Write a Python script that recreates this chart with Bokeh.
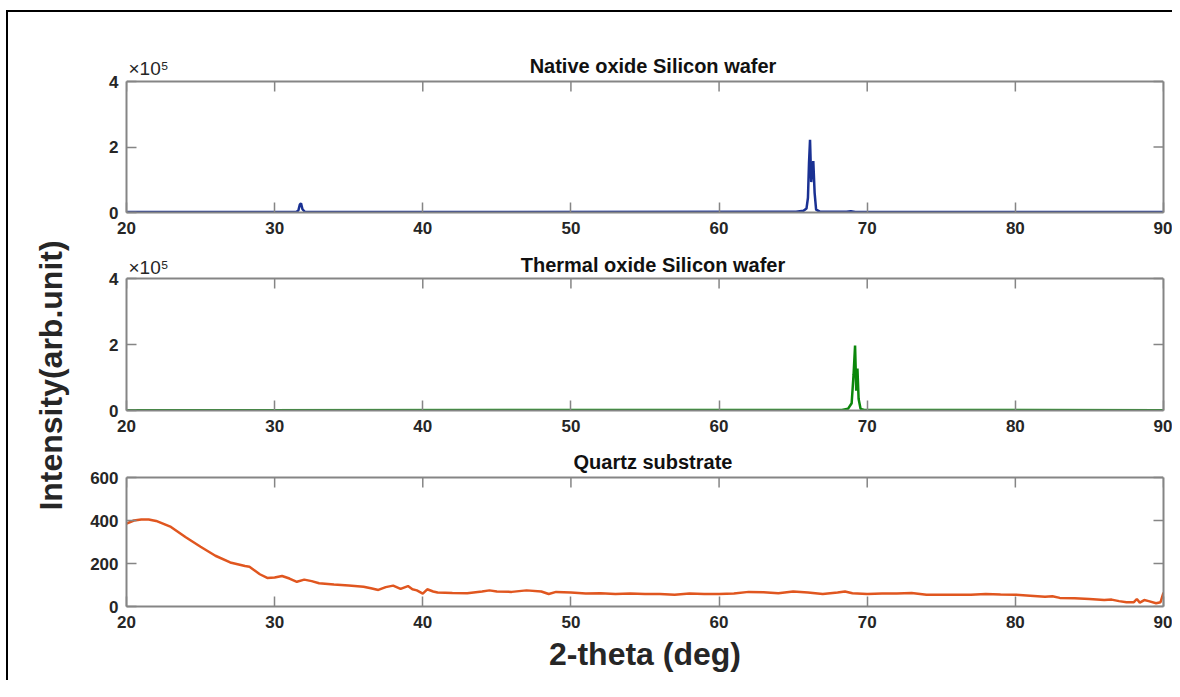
import math
from bokeh.plotting import figure
from bokeh.models import Range1d, Label, FixedTicker, LinearAxis, Span
from bokeh.layouts import row, column
from bokeh.embed import file_html
from bokeh.resources import INLINE

# ---------------- data ----------------
native_x = [20, 31.45, 31.6, 31.7, 31.78, 31.88, 32.05, 65.2, 65.7, 65.9, 66.0, 66.07, 66.14,
            66.22, 66.3, 66.36, 66.45, 66.55, 66.8, 68.6, 68.9, 69.2, 90]
native_y = [1500, 1500, 6000, 24000, 28000, 10000, 1500, 2000, 5000, 12000, 45000, 150000, 222000,
            93000, 140000, 157000, 60000, 9000, 2500, 2000, 3500, 1800, 1500]

thermal_x = [20, 68.3, 68.7, 68.95, 69.08, 69.18, 69.26, 69.34, 69.42, 69.55, 69.8, 90]
thermal_y = [1000, 1500, 5000, 22000, 110000, 197000, 60000, 127000, 35000, 5000, 1500, 1000]

quartz_x = [20, 20.5, 21, 21.5, 22, 23, 24, 24.5, 25, 26, 27, 28, 28.3, 29, 29.5, 30, 30.5, 31, 31.5,
            32, 32.5, 33, 34, 35, 36, 36.5, 37, 37.5, 38, 38.5, 39, 39.3, 39.6, 40, 40.3, 40.7, 41,
            42, 43, 44, 44.5, 45, 46, 47, 48, 48.5, 49, 50, 51, 52, 53, 54, 55, 56, 57, 58, 59, 60,
            61, 62, 63, 64, 65, 66, 67, 68, 68.5, 69, 70, 71, 72, 73, 74, 75, 76, 77, 78, 79, 80,
            81, 82, 82.5, 83, 84, 85, 86, 86.5, 87, 87.5, 88, 88.2, 88.4, 88.7, 89, 89.5, 89.8, 90]
quartz_y = [385, 400, 405, 405, 398, 370, 322, 300, 278, 236, 205, 188, 185, 150, 133, 135, 142, 130,
            115, 125, 118, 108, 102, 98, 92, 85, 77, 90, 97, 82, 95, 80, 75, 60, 80, 70, 65,
            63, 62, 70, 75, 70, 68, 75, 70, 58, 68, 65, 60, 62, 58, 60, 58, 58, 55, 60, 58, 58,
            60, 68, 66, 62, 70, 65, 58, 65, 70, 62, 58, 60, 60, 63, 55, 55, 55, 55, 58, 56, 55,
            50, 45, 48, 40, 38, 35, 30, 32, 25, 20, 20, 35, 18, 30, 25, 15, 20, 65]

x_ticks = [20, 30, 40, 50, 60, 70, 80, 90]
si_ticks = [0, 200000, 400000]
si_labels = {0: "0", 200000: "2", 400000: "4"}
quartz_ticks = [0, 200, 400, 600]

titles = ["Native oxide Silicon wafer", "Thermal oxide Silicon wafer", "Quartz substrate"]
exponent = "×10⁵"
colors = ["#1a3193", "#0b870b", "#e0561f"]

FONT = "Liberation Sans"
AX = "#858585"
TXT = "#262626"
XR = (20, 90)
W = 1096
ML, MR = 50, 9


def make_panel(title, yb, yticks, overrides, top_pad, box_h, bottom, title_dy,
               xs, ys, color, exp_dy=None, xlabel=None):
    y0, y1 = yb
    # frame is extended above the axes box to hold the title texts
    ytop = y1 + (y1 - y0) * top_pad / box_h
    p = figure(width=W, height=top_pad + box_h + bottom,
               x_range=Range1d(*XR), y_range=Range1d(y0, ytop),
               output_backend="svg", toolbar_location=None,
               min_border_left=ML, min_border_right=MR, min_border_top=0, min_border_bottom=bottom)
    p.grid.visible = False
    p.outline_line_color = None
    p.background_fill_color = "white"
    p.border_fill_color = "white"

    p.xaxis.ticker = FixedTicker(ticks=x_ticks)
    p.yaxis.ticker = FixedTicker(ticks=yticks)
    p.yaxis.bounds = (y0, y1)
    if overrides:
        p.yaxis.major_label_overrides = overrides
    for ax in (p.xaxis[0], p.yaxis[0]):
        ax.axis_line_color = AX
        ax.axis_line_width = 2
        ax.major_tick_line_color = AX
        ax.major_tick_line_width = 1.5
        ax.major_tick_in = 10
        ax.major_tick_out = 0
        ax.minor_tick_line_color = None
        ax.major_label_text_font = FONT
        ax.major_label_text_font_size = "17px"
        ax.major_label_text_font_style = "bold"
        ax.major_label_text_color = TXT
    p.xaxis.major_label_standoff = 9
    p.yaxis.major_label_standoff = 8

    if xlabel:
        p.xaxis.axis_label = xlabel
        p.xaxis.axis_label_text_font = FONT
        p.xaxis.axis_label_text_font_size = "32px"
        p.xaxis.axis_label_text_font_style = "bold"
        p.xaxis.axis_label_text_color = TXT
        p.xaxis.axis_label_standoff = 5

    # right edge of the box (no ticks / labels of its own)
    ra = LinearAxis(ticker=FixedTicker(ticks=[]), bounds=(y0, y1))
    ra.axis_line_color = AX
    ra.axis_line_width = 2
    ra.major_tick_line_color = None
    ra.minor_tick_line_color = None
    p.add_layout(ra, "right")
    # top edge of the box
    p.add_layout(Span(location=y1, dimension="width", line_color=AX, line_width=2))

    # inward ticks on the top and right edges of the box
    p.ray(x=x_ticks, y=[y1] * len(x_ticks), length=10, length_units="screen",
          angle=-math.pi / 2, line_color=AX, line_width=1.5)
    p.ray(x=[XR[1]] * len(yticks), y=yticks, length=10, length_units="screen",
          angle=math.pi, line_color=AX, line_width=1.5)

    p.line(xs, ys, line_color=color, line_width=2.5)

    p.add_layout(Label(x=(XR[0] + XR[1]) / 2, y=y1, x_offset=8, y_offset=title_dy, text=title,
                       text_font=FONT, text_font_size="20px", text_font_style="bold",
                       text_color="#111111", text_align="center", text_baseline="middle"))
    if exp_dy is not None:
        p.add_layout(Label(x=XR[0], y=y1, x_offset=2, y_offset=exp_dy, text=exponent,
                           text_font=FONT, text_font_size="19px", text_color=TXT,
                           text_align="left", text_baseline="bottom"))
    return p


p1 = make_panel(titles[0], (0, 400000), si_ticks, si_labels, 69, 131, 33, 16,
                native_x, native_y, colors[0], exp_dy=3)
p2 = make_panel(titles[1], (0, 400000), si_ticks, si_labels, 33, 132, 33, 14,
                thermal_x, thermal_y, colors[1], exp_dy=1)
p3 = make_panel(titles[2], (0, 600), quartz_ticks, None, 34, 129, 74, 16,
                quartz_x, quartz_y, colors[2], xlabel="2-theta (deg)")

lab = figure(width=68, height=668, x_range=Range1d(0, 68), y_range=Range1d(0, 668),
             output_backend="svg", toolbar_location=None, x_axis_location=None, y_axis_location=None,
             min_border=0, outline_line_color=None)
lab.grid.visible = False
lab.add_layout(Label(x=42, y=305, text="Intensity(arb.unit)", angle=math.pi / 2,
                     text_font=FONT, text_font_size="32px", text_font_style="bold",
                     text_color=TXT, text_align="center", text_baseline="middle"))

layout = row(lab, column(p1, p2, p3),
             styles={"border-top": "2px solid black", "border-left": "2px solid black",
                     "margin-left": "6px", "margin-top": "10px"})

open("out.html", "w").write(file_html(layout, INLINE))
